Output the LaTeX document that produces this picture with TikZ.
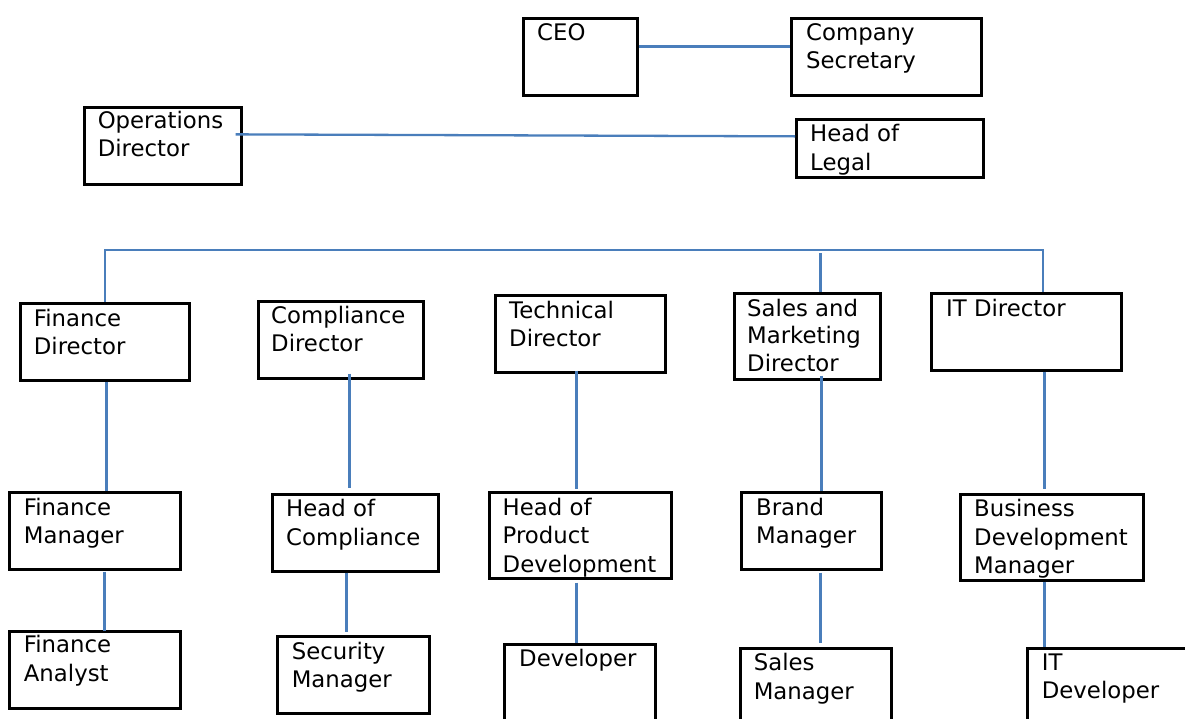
\documentclass[tikz,border=0pt]{standalone}
\usepackage{fontspec}
\setmainfont{DejaVu Sans}
\usetikzlibrary{calc}
\definecolor{linkblue}{HTML}{4A7EBB}
\begin{document}
\begin{tikzpicture}[x=1pt,y=-1pt,
  box/.style={draw=black, line width=2.7pt, inner sep=0pt, anchor=north west},
  lbl/.style={anchor=base west, inner sep=0pt, align=left, font=\fontsize{22.8}{28.5}\selectfont},
  two/.style={yshift=-28.5pt},
  three/.style={yshift=-57pt},
  link/.style={draw=linkblue, line width=2.3pt}]
\useasboundingbox (0,0) rectangle (1185,718);
\clip (0,0) rectangle (1185,718);
% boxes
\node[box, minimum width=114, minimum height=77] (ceo) at (522,17) {};
\node[box, minimum width=190, minimum height=77] (cs) at (790,17) {};
\node[box, minimum width=187, minimum height=58] (hol) at (795,118) {};
\node[box, minimum width=157, minimum height=77] (ops) at (83,106) {};
\node[box, minimum width=169, minimum height=77] (findir) at (19,302) {};
\node[box, minimum width=165, minimum height=77] (compdir) at (257,300) {};
\node[box, minimum width=170, minimum height=77] (techdir) at (494,294) {};
\node[box, minimum width=146, minimum height=86] (smdir) at (733,292) {};
\node[box, minimum width=190, minimum height=77] (itdir) at (930,292) {};
\node[box, minimum width=171, minimum height=77] (finmgr) at (8,491) {};
\node[box, minimum width=166, minimum height=77] (hoc) at (271,493) {};
\node[box, minimum width=182, minimum height=86] (hopd) at (488,491) {};
\node[box, minimum width=140, minimum height=77] (brand) at (740,491) {};
\node[box, minimum width=183, minimum height=86] (bdm) at (959,493) {};
\node[box, minimum width=171, minimum height=77] (finan) at (8,630) {};
\node[box, minimum width=152, minimum height=77] (secmgr) at (276,635) {};
\node[box, minimum width=151, minimum height=100] (dev) at (503,643) {};
\node[box, minimum width=151, minimum height=100] (salesmgr) at (739,647) {};
\node[box, minimum width=174, minimum height=100] (itdev) at (1026,647) {};
% texts (anchor is the baseline of the last line, shifted to the first line)
\node[lbl] (tceo) at (537,40) {CEO};
\node[lbl, two] (tcs) at (806,40) {Company\\Secretary};
\node[lbl, two] (thol) at (810,141.7) {Head of\\Legal};
\node[lbl, two] (tops) at (97.6,128.3) {Operations\\Director};
\node[lbl, two] (tfindir) at (33.7,326) {Finance\\Director};
\node[lbl, two] (tcompdir) at (271,323.3) {Compliance\\Director};
\node[lbl, two] (ttechdir) at (509,318.3) {Technical\\Director};
\node[lbl, three, font=\fontsize{22.8}{27.9}\selectfont, yshift=1.2pt] (tsmdir) at (747,316) {Sales and\\Marketing\\Director};
\node[lbl] (titdir) at (946,316) {IT Director};
\node[lbl, two] (tfinmgr) at (23.7,515) {Finance\\Manager};
\node[lbl, two] (thoc) at (286,516.7) {Head of\\Compliance};
\node[lbl, three] (thopd) at (502.5,515) {Head of\\Product\\Development};
\node[lbl, two] (tbrand) at (756,515) {Brand\\Manager};
\node[lbl, three] (tbdm) at (974,516.7) {Business\\Development\\Manager};
\node[lbl, two] (tfinan) at (23.7,652.7) {Finance\\Analyst};
\node[lbl, two] (tsecmgr) at (291.6,659) {Security\\Manager};
\node[lbl] (tdev) at (519,666.7) {Developer};
\node[lbl, two] (tsalesmgr) at (753.6,670.7) {Sales\\Manager};
\node[lbl, two] (titdev) at (1041.7,670) {IT\\Developer};
% connectors
\coordinate (busL) at (105,250);
\coordinate (busR) at (1043,250);
\draw[link] ($(ceo.east)+(0,-10.5)$) -- ($(cs.west)+(0,-10.5)$);
\draw[link] ($(ops.east)+(-7,-11.5)$) -- ($(hol.west)+(0,-12)$);
\draw[link] ($(ceo.south)+(-6,0)$) -- ($(ceo.south)+(-6,0)$ |- busL);
\draw[link] (findir.north -| busL) -- (busL) -- (busR) -- (itdir.north -| busR);
\draw[link] ($(compdir.north)+(21.5,0)$ |- busL) -- ($(compdir.north)+(21.5,0)$);
\draw[link] ($(techdir.north)+(-6,0)$ |- busL) -- ($(techdir.north)+(-6,0)$);
\draw[link] ($(smdir.north)+(13,-39)$) -- ($(smdir.north)+(13,0)$);
\draw[link] ($(findir.south)+(1.5,0)$) -- ($(finmgr.north)+(11.5,0)$);
\draw[link] ($(compdir.south)+(8.5,-6)$) -- ($(hoc.north)+(-6,-5)$);
\draw[link] ($(techdir.south)+(-4,-3)$) -- ($(hopd.north)+(-4,-2)$);
\draw[link] ($(smdir.south)+(14,-5)$) -- ($(brand.north)+(10,0)$);
\draw[link] ($(itdir.south)+(18,0)$) -- ($(bdm.north)+(-7.5,-4)$);
\draw[link] ($(finmgr.south)+(9.5,1)$) -- ($(finan.north)+(9.5,1)$);
\draw[link] ($(hoc.south)+(-9,0)$) -- ($(secmgr.north)+(-7,-3)$);
\draw[link] ($(hopd.south)+(-4,3)$) -- ($(dev.north)+(-3.5,0)$);
\draw[link] ($(brand.south)+(9,2)$) -- ($(salesmgr.north)+(4.5,-4)$);
\draw[link] ($(bdm.south)+(-7.5,0)$) -- ($(itdev.north)+(-70,0)$);
\end{tikzpicture}
\end{document}
